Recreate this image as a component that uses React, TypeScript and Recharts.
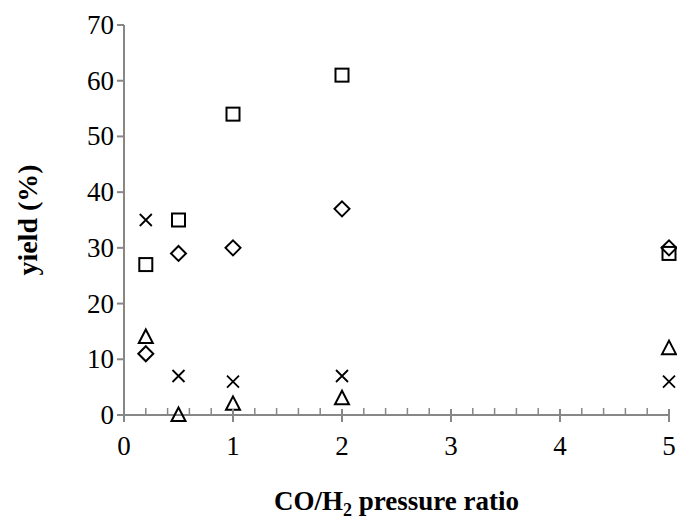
import { ScatterChart, Scatter, XAxis, YAxis, Label } from 'recharts'

const ratio = [0.2, 0.5, 1, 2, 5]
const squareYield = [27, 35, 54, 61, 29]
const diamondYield = [11, 29, 30, 37, 30]
const triangleYield = [14, 0, 2, 3, 12]
const crossYield = [35, 7, 6, 7, 6]

const xTicks = [0, 0.2, 0.4, 0.6, 0.8, 1, 1.2, 1.4, 1.6, 1.8, 2, 2.2, 2.4, 2.6, 2.8, 3, 3.2, 3.4, 3.6, 3.8, 4, 4.2, 4.4, 4.6, 4.8, 5]
const xLabels = [0, 1, 2, 3, 4, 5]
const yTicks = [0, 10, 20, 30, 40, 50, 60, 70]

const FONT = 'Liberation Serif'
const AXIS = '#878787'

const toPoints = (ys: number[]) => ratio.map((x, i) => ({ x, y: ys[i] }))

const Square = ({ cx, cy }: any) => (
  <rect x={cx - 6.5} y={cy - 6.5} width={13} height={13} fill="none" stroke="#000" strokeWidth={2} />
)
const Diamond = ({ cx, cy }: any) => (
  <path d={`M${cx},${cy - 7.5}L${cx + 7.5},${cy}L${cx},${cy + 7.5}L${cx - 7.5},${cy}Z`} fill="none" stroke="#000" strokeWidth={2} />
)
const Triangle = ({ cx, cy }: any) => (
  <path d={`M${cx},${cy - 7.5}L${cx + 7},${cy + 6}L${cx - 7},${cy + 6}Z`} fill="none" stroke="#000" strokeWidth={2} />
)
const Cross = ({ cx, cy }: any) => (
  <path d={`M${cx - 6},${cy - 6}L${cx + 6},${cy + 6}M${cx + 6},${cy - 6}L${cx - 6},${cy + 6}`} stroke="#000" strokeWidth={1.8} />
)

const XTick = ({ x, y, payload }: any) => {
  const major = xLabels.includes(payload.value)
  return (
    <g>
      {major ? (
        <line x1={x} x2={x} y1={y - 6} y2={y + 7} stroke={AXIS} strokeWidth={2} />
      ) : (
        <line x1={x} x2={x} y1={y - 7} y2={y} stroke={AXIS} strokeWidth={1.5} />
      )}
      {major && (
        <text x={x} y={y + 40} textAnchor="middle" fontSize={27} fontFamily={FONT} fill="#000">
          {payload.value}
        </text>
      )}
    </g>
  )
}

const YTick = ({ x, y, payload }: any) => (
  <text x={x} y={y + 9} textAnchor="end" fontSize={27} fontFamily={FONT} fill="#000">
    {payload.value}
  </text>
)

const XTitle = ({ viewBox }: any) => {
  const cx = viewBox.x + viewBox.width / 2
  return (
    <text x={cx} y={510} textAnchor="middle" fontSize={27} fontWeight="bold" fontFamily={FONT} fill="#000">
      CO/H
      <tspan fontSize={18} dy={6}>2</tspan>
      <tspan dy={-6}> pressure ratio</tspan>
    </text>
  )
}

const YTitle = ({ viewBox }: any) => {
  const cy = viewBox.y + viewBox.height / 2
  return (
    <text
      x={37}
      y={cy}
      transform={`rotate(-90 37 ${cy})`}
      textAnchor="middle"
      fontSize={28}
      fontWeight="bold"
      fontFamily={FONT}
      fill="#000"
    >
      yield (%)
    </text>
  )
}

export default function App() {
  return (
    <div style={{ position: 'absolute', left: 0, top: 0, background: '#fff' }}>
      <ScatterChart width={677} height={524} margin={{ top: 25, right: 8, bottom: 0, left: 0 }}>
        <XAxis
          type="number"
          dataKey="x"
          domain={[0, 5]}
          ticks={xTicks}
          interval={0}
          stroke={AXIS}
          strokeWidth={2}
          tickLine={false}
          tickSize={0}
          tickMargin={0}
          tick={<XTick />}
          height={109}
        >
          <Label content={<XTitle />} />
        </XAxis>
        <YAxis
          type="number"
          dataKey="y"
          domain={[0, 70]}
          ticks={yTicks}
          interval={0}
          width={124}
          stroke={AXIS}
          strokeWidth={2}
          tickSize={7}
          tickMargin={3}
          tick={<YTick />}
        >
          <Label content={<YTitle />} />
        </YAxis>
        <Scatter data={toPoints(squareYield)} shape={<Square />} isAnimationActive={false} />
        <Scatter data={toPoints(diamondYield)} shape={<Diamond />} isAnimationActive={false} />
        <Scatter data={toPoints(triangleYield)} shape={<Triangle />} isAnimationActive={false} />
        <Scatter data={toPoints(crossYield)} shape={<Cross />} isAnimationActive={false} />
      </ScatterChart>
    </div>
  )
}
